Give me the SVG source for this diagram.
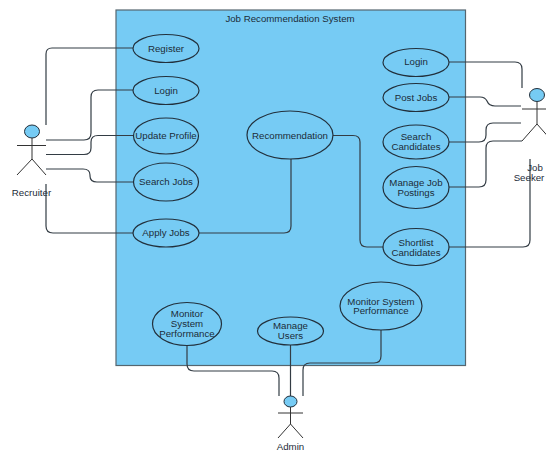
<svg xmlns="http://www.w3.org/2000/svg" width="546" height="451" viewBox="0 0 546 451">
<style>
text{font-family:"Liberation Sans",Arial,sans-serif;font-size:9.700px;fill:#1c2b38;text-anchor:middle}
.u{fill:#76cbf4;stroke:#22303c;stroke-width:1.200}
.c{fill:none;stroke:#333c44;stroke-width:1.200}
.a{fill:none;stroke:#333;stroke-width:1}
.h{fill:#76cbf4;stroke:#22303c;stroke-width:1}
</style>
<rect width="546" height="451" fill="#fff"/>
<g id="system"><rect x="116" y="10" width="349.500" height="355.500" fill="#76cbf4" stroke="#55666f" stroke-width="1.200"/><text x="290" y="22">Job Recommendation System</text></g>
<g id="connectors">
<path class="c" d="M46 125V54Q46 48 52 48H134"/>
<path class="c" d="M46 140H84Q91 140 91 133V97Q91 90 98 90H134"/>
<path class="c" d="M46 154.500H84Q91 154.500 91 148V142Q91 135.500 98 135.500H134"/>
<path class="c" d="M46 169H83Q90 169 90 175V176Q90 182 97 182H134"/>
<path class="c" d="M46 184V226Q46 233 53 233H134"/>
<path class="c" d="M199 233H284Q291 233 291 226V159"/>
<path class="c" d="M333 135.500H353Q360 135.500 360 142V240Q360 247 367 247H384"/>
<path class="c" d="M449 62H515Q522 62 522 69V88"/>
<path class="c" d="M449 97H480Q485 97 487 101Q489 106 495 106H521"/>
<path class="c" d="M449 142H479Q486 142 486 135V130Q486 123 493 123H521"/>
<path class="c" d="M449 187H479Q486 187 486 180V148Q486 141 493 141H522"/>
<path class="c" d="M449 247H523Q530 247 530 240V159"/>
<path class="c" d="M187 345V364Q187 371 194 371H272Q279 371 279 378V396"/>
<path class="c" d="M290.500 345V396"/>
<path class="c" d="M381 330V356Q381 363 374 363H310Q303 363 303 370V396"/>
</g>
<g id="uc-register"><ellipse class="u" cx="166" cy="48.500" rx="33" ry="14"/><text x="166" y="51.500">Register</text></g>
<g id="uc-login-r"><ellipse class="u" cx="166" cy="90.500" rx="33" ry="14"/><text x="166" y="93.500">Login</text></g>
<g id="uc-update"><ellipse class="u" cx="166" cy="136" rx="32.500" ry="18"/><text x="166" y="139">Update Profile</text></g>
<g id="uc-search"><ellipse class="u" cx="166" cy="182" rx="32.500" ry="19"/><text x="166" y="185">Search Jobs</text></g>
<g id="uc-apply"><ellipse class="u" cx="166" cy="233" rx="33" ry="14"/><text x="166" y="236">Apply Jobs</text></g>
<g id="uc-recommendation"><ellipse class="u" cx="290" cy="135" rx="43" ry="24"/><text x="290" y="138.500">Recommendation</text></g>
<g id="uc-login-j"><ellipse class="u" cx="416" cy="62.500" rx="33" ry="14"/><text x="416" y="65">Login</text></g>
<g id="uc-post"><ellipse class="u" cx="416" cy="97.500" rx="33" ry="14"/><text x="416" y="100.500">Post Jobs</text></g>
<g id="uc-candidates"><ellipse class="u" cx="416" cy="142" rx="33" ry="17"/><text x="416" y="140">Search</text><text x="416" y="149.500">Candidates</text></g>
<g id="uc-manage-jobs"><ellipse class="u" cx="416" cy="187.500" rx="33" ry="21"/><text x="416" y="186">Manage Job</text><text x="416" y="195.500">Postings</text></g>
<g id="uc-shortlist"><ellipse class="u" cx="416" cy="247" rx="33" ry="18.500"/><text x="416" y="246">Shortlist</text><text x="416" y="256">Candidates</text></g>
<g id="uc-monitor-1"><ellipse class="u" cx="187" cy="324" rx="34.500" ry="21.500"/><text x="187" y="317">Monitor</text><text x="187" y="327">System</text><text x="187" y="337">Performance</text></g>
<g id="uc-manage-users"><ellipse class="u" cx="290.500" cy="331" rx="33" ry="14"/><text x="290.500" y="329">Manage</text><text x="290.500" y="339">Users</text></g>
<g id="uc-monitor-2"><ellipse class="u" cx="381" cy="306" rx="41" ry="24"/><text x="381" y="304.500">Monitor System</text><text x="381" y="314">Performance</text></g>
<g id="actor-recruiter"><ellipse class="h" cx="32" cy="131.500" rx="7.500" ry="6.500"/><path class="a" d="M32 138V159M17 145.500H46M17 175L32 159L46 175"/><text x="31.500" y="196">Recruiter</text></g>
<g id="actor-jobseeker"><ellipse class="h" cx="537" cy="95" rx="7.500" ry="6.500"/><path class="a" d="M537 102V124M522 109H552M522 141L537 124L552 141"/><text x="535" y="171">Job</text><text x="529" y="181">Seeker</text></g>
<g id="actor-admin"><ellipse class="h" cx="290.500" cy="401.500" rx="6.500" ry="5.500"/><path class="a" d="M290.500 407V424M278 413H303M278 438L290.500 424L303 438"/><text x="290.500" y="450">Admin</text></g>
</svg>
